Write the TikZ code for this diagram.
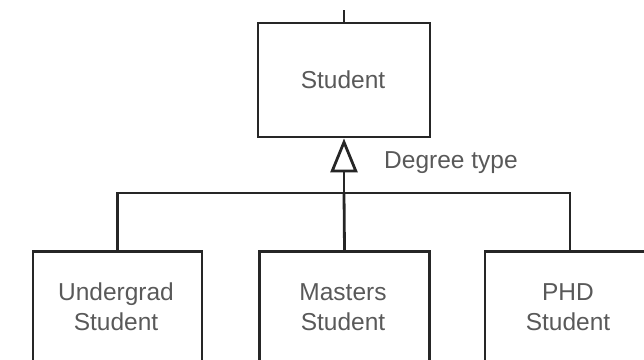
\documentclass[tikz,border=0pt]{standalone}
\usepackage{fontspec}
\setmainfont{Liberation Sans}
\usetikzlibrary{arrows.meta}
\begin{document}
\begin{tikzpicture}[x=1pt,y=-1pt,
  ln/.style={draw=black!85, line width=2.8pt},
  box/.style={ln, rectangle, inner sep=0pt},
  txt/.style={font=\fontsize{24.5}{30}\selectfont, text=black!65, align=center, inner sep=0pt},
  gen/.style={ln, -{Triangle[open, length=34pt, width=27pt, line width=2.8pt]}}]
\useasboundingbox (0,0) rectangle (644,359);
\clip (0,0) rectangle (644,359);
\node[box, minimum width=172pt, minimum height=114pt] (s) at (344,80) {};
\node[txt] (st) at (343,80) {Student};
\node[box, minimum width=169pt, minimum height=200pt, anchor=north] (u) at (117.5,250) {};
\node[box, minimum width=170pt, minimum height=200pt, anchor=north] (m) at (344.5,250) {};
\node[box, minimum width=170pt, minimum height=200pt, anchor=north] (p) at (570,250) {};
\node[txt] (ut) at (116,307) {Undergrad\\Student};
\node[txt] (mt) at (343,307) {Masters\\Student};
\node[txt] (pt) at (568,307) {PHD\\Student};
\node[txt, anchor=west] (dt) at (384,163) {Degree type};
\coordinate (bar) at (344,193);
\coordinate (topend) at (344,10);
\draw[ln] (s.north) -- (topend);
\draw[ln] (u.north) |- (bar) -| (p.north);
\draw[ln] (m.north) -- (bar);
\draw[gen] (bar) -- (s.south);
\end{tikzpicture}
\end{document}
